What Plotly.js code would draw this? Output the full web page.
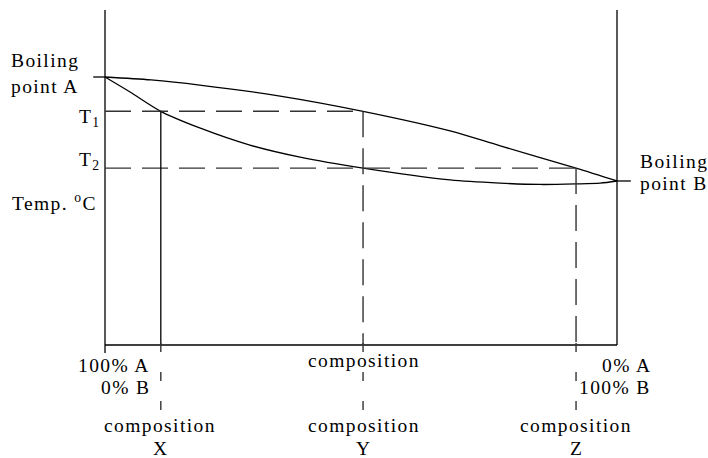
<!DOCTYPE html>
<html><head><meta charset="utf-8">
<script src="https://cdn.plot.ly/plotly-3.0.1.min.js"></script>
<style>
html,body{margin:0;padding:0;background:#fff;}
#chart{width:708px;height:458px;}
.annotation-text{letter-spacing:1.4px;}
</style></head><body><div id="chart"></div>
<script>
// composition in % B (0 = 100% A, 100 = 100% B), temperature in arbitrary units
const vaporComp  = [0, 9, 18.5, 34.2, 50.4, 67.4, 77.2, 92, 100];
const vaporTemp  = [100, 98.9, 97.0, 92.9, 87.2, 79.9, 74.3, 66.0, 61.2];
const liquidComp = [0, 4.9, 10.9, 18.5, 28.3, 38.1, 50.4, 67.4, 77.2, 85, 92, 96.7, 100];
const liquidTemp = [100, 94.4, 87.2, 81.0, 74.6, 70.1, 66.0, 61.6, 60.4, 59.9, 60.1, 60.4, 61.2];
const boilingA = 100, boilingB = 61.2;
const T1 = 87.2, T2 = 66.0;
const compX = 10.9, compY = 50.4, compZ = 92;
const compMin = 0, compMax = 100;
const tempMin = 0, tempTop = 125;
const belowTop = 0.75, belowBottom = -24.6, axisTickBottom = -3;
const tickLeft = -2.3, tickRight = 102.7;

const solid = {color: '#000', width: 1.3};
const dashUp = {color: '#333', width: 1.4, dash: '26px,11px'};
const dashDown = {color: '#333', width: 1.4, dash: '9px,20px'};

function seg(x, y, line) {
  return {x: x, y: y, mode: 'lines', type: 'scatter', line: line, hoverinfo: 'skip'};
}

const traces = [
  seg([compMin, compMin], [tempTop, axisTickBottom], solid),
  seg([compMax, compMax], [tempTop, tempMin], solid),
  seg([compMin, compMax], [tempMin, tempMin], solid),
  seg([tickLeft, compMin], [boilingA, boilingA], solid),
  seg([compMax, tickRight], [boilingB, boilingB], solid),
  {x: vaporComp, y: vaporTemp, mode: 'lines', type: 'scatter', line: {color: '#000', width: 1.3, shape: 'spline', smoothing: 0.8}, hoverinfo: 'skip'},
  {x: liquidComp, y: liquidTemp, mode: 'lines', type: 'scatter', line: {color: '#000', width: 1.3, shape: 'spline', smoothing: 0.8}, hoverinfo: 'skip'},
  seg([compMin, compY], [T1, T1], dashUp),
  seg([compMin, compZ], [T2, T2], dashUp),
  seg([compX, compX], [T1, tempMin], solid),
  seg([compY, compY], [T1, tempMin], dashUp),
  seg([compZ, compZ], [T2, tempMin], dashUp),
  seg([compX, compX], [belowTop, belowBottom], dashDown),
  seg([compY, compY], [belowTop, belowBottom], dashDown),
  seg([compZ, compZ], [belowTop, belowBottom], dashDown)
];

const F = {family: 'Liberation Serif, Times New Roman, serif', size: 19.5, color: '#000'};
function ann(text, x, y, xanchor) {
  return {text: text, x: x, y: y, xref: 'x', yref: 'y', showarrow: false,
          xanchor: xanchor, yanchor: 'middle', font: F, align: xanchor === 'right' ? 'right' : (xanchor === 'left' ? 'left' : 'center')};
}

const annotations = [
  ann('Boiling', -18.75, 106.2, 'left'),
  ann('point A', -18.75, 96.6, 'left'),
  ann('T<sub>1</sub>', -5.5, 84.6, 'left'),
  ann('T<sub>2</sub>', -5.5, 68.6, 'left'),
  ann('Temp. <sup>o</sup>C', -18.55, 53.2, 'left'),
  ann('Boiling', 104.1, 68.5, 'left'),
  ann('point B', 104.1, 60.3, 'left'),
  ann('100% A', 9.2, -7.5, 'right'),
  ann('0% B', 9.2, -15.7, 'right'),
  ann('composition', 50.6, -5.6, 'center'),
  ann('0% A', 107.0, -7.5, 'right'),
  ann('100% B', 107.0, -15.7, 'right'),
  ann('composition', 10.7, -29.9, 'center'),
  ann('X', 10.8, -38.6, 'center'),
  ann('composition', 50.6, -29.9, 'center'),
  ann('Y', 50.4, -38.6, 'center'),
  ann('composition', 92, -29.9, 'center'),
  ann('Z', 92, -38.6, 'center')
];

const layout = {
  width: 708, height: 458,
  margin: {l: 0, r: 0, t: 0, b: 0, pad: 0},
  paper_bgcolor: '#fff', plot_bgcolor: '#fff',
  showlegend: false, hovermode: false,
  xaxis: {range: [-20.508, 117.773], visible: false, fixedrange: true},
  yaxis: {range: [-42.16, 128.73], visible: false, fixedrange: true},
  annotations: annotations
};

Plotly.newPlot('chart', traces, layout, {staticPlot: true, displayModeBar: false});
</script></body></html>
